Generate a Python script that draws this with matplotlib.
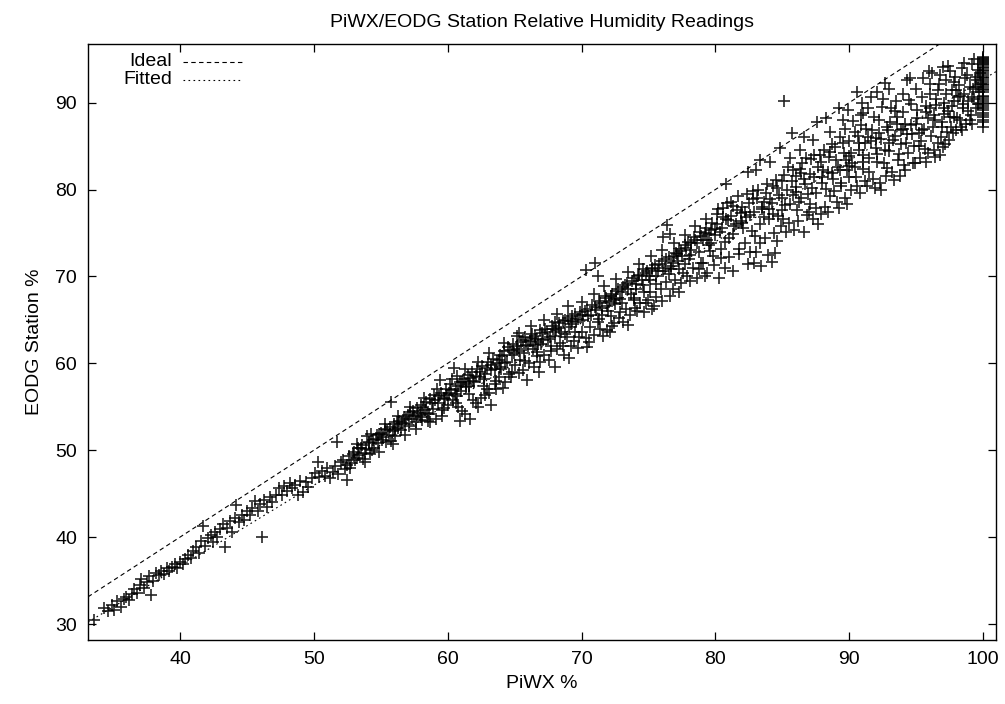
import numpy as np
import matplotlib
matplotlib.use("Agg")
import matplotlib.pyplot as plt

# (PiWX %, EODG %) readings, grouped by PiWX range
rh_33_40 = [(33.6, 30.5), (34.3, 31.8), (34.6, 31.5), (34.9, 32.2), (35.1, 31.6), (35.3, 32.6),
            (35.6, 32.0), (35.8, 32.9), (36.0, 33.1), (36.2, 32.8), (36.4, 33.4), (36.6, 34.0),
            (36.8, 33.6), (37.0, 34.5), (37.1, 35.2), (37.3, 34.2), (37.5, 34.8), (37.7, 35.5),
            (37.8, 33.3), (38.0, 35.0), (38.2, 35.9), (38.4, 35.6), (38.6, 36.1), (38.8, 35.8),
            (39.0, 36.4), (39.2, 36.1), (39.4, 36.6), (39.6, 36.9), (39.8, 36.5), (40.0, 37.1),
            (40.2, 36.9), (40.4, 37.5)]

rh_40_47 = [(40.6, 38.0), (40.8, 37.6), (41.0, 38.4), (41.2, 38.9), (41.4, 38.2), (41.6, 39.5),
            (41.7, 41.3), (41.9, 39.0), (42.1, 39.9), (42.3, 40.3), (42.5, 39.4), (42.6, 40.6),
            (42.8, 40.0), (43.0, 40.9), (43.2, 41.5), (43.4, 38.9), (43.5, 41.0), (43.7, 41.8),
            (43.9, 40.6), (44.1, 42.2), (44.2, 43.7), (44.4, 41.7), (44.6, 42.6), (44.8, 42.0),
            (45.0, 43.0), (45.2, 42.5), (45.4, 43.4), (45.6, 44.1), (45.8, 43.0), (46.0, 43.8),
            (46.1, 40.0), (46.3, 44.3), (46.5, 43.5), (46.7, 44.6), (46.9, 44.0)]

rh_47_52 = [(47.2, 44.9), (47.4, 45.6), (47.6, 44.8), (47.8, 45.9), (48.0, 45.3), (48.2, 46.2),
            (48.4, 45.6), (48.6, 46.0), (48.8, 44.9), (49.0, 46.5), (49.2, 45.2), (49.4, 46.3),
            (49.6, 45.8), (49.9, 46.8), (50.1, 47.4), (50.3, 48.6), (50.4, 46.9), (50.6, 47.6),
            (50.8, 47.0), (51.0, 47.9), (51.2, 46.8), (51.4, 47.5), (51.7, 51.0), (51.6, 48.2),
            (51.8, 47.3), (52.0, 48.6), (52.2, 48.9), (52.3, 47.8), (52.5, 46.6)]

rh_52_56 = [(52.6, 49.3), (52.8, 48.5), (53.0, 49.8), (53.1, 48.9), (53.3, 50.2), (53.4, 49.4),
            (53.6, 50.6), (53.7, 49.0), (53.9, 50.1), (54.0, 51.6), (54.1, 50.8), (54.2, 49.6),
            (54.4, 51.2), (54.5, 50.3), (54.7, 51.7), (54.8, 50.8), (55.0, 52.0), (55.1, 51.2),
            (55.3, 52.4), (55.4, 50.9), (55.6, 51.8), (55.7, 52.7), (55.8, 55.5), (55.9, 52.2),
            (56.0, 53.0), (56.1, 51.6), (56.3, 52.6)]

rh_56_60 = [(56.4, 53.4), (56.5, 52.3), (56.7, 53.8), (56.8, 53.0), (57.0, 54.1), (57.1, 52.8),
            (57.3, 53.6), (57.4, 54.5), (57.6, 53.2), (57.7, 54.9), (57.9, 54.0), (58.0, 55.2),
            (58.1, 53.5), (58.3, 54.6), (58.4, 55.6), (58.6, 54.2), (58.7, 55.9), (58.9, 54.8),
            (59.0, 56.3), (59.1, 53.6), (59.3, 55.4), (59.4, 58.1), (59.5, 56.6), (59.6, 54.6),
            (59.8, 55.9), (59.9, 57.0), (60.0, 55.2)]

rh_60_64 = [(60.1, 56.6), (60.2, 57.6), (60.4, 55.8), (60.5, 59.5), (60.6, 57.1), (60.7, 56.2),
            (60.9, 53.4), (60.9, 57.8), (61.0, 56.8), (61.2, 58.2), (61.3, 54.2), (61.4, 57.3),
            (61.5, 58.7), (61.6, 56.5), (61.7, 53.6), (61.8, 59.0), (62.0, 57.9), (62.1, 55.4),
            (62.2, 59.3), (62.4, 58.4), (62.5, 56.0), (62.6, 59.7), (62.8, 58.8), (62.9, 57.0),
            (63.0, 60.1), (63.2, 55.2), (63.2, 59.2), (63.4, 60.5), (63.5, 57.6), (63.7, 60.0),
            (63.8, 58.4), (63.9, 61.0)]

rh_64_68 = [(64.0, 59.4), (64.1, 57.2), (64.2, 61.4), (64.4, 60.2), (64.5, 61.9), (64.6, 58.8),
            (64.8, 61.0), (64.9, 62.2), (65.0, 59.8), (65.2, 63.1), (65.2, 61.6), (65.4, 60.4),
            (65.5, 62.5), (65.7, 61.2), (65.8, 63.0), (65.9, 58.1), (66.0, 62.0), (66.1, 60.0),
            (66.3, 63.4), (66.4, 61.6), (66.6, 62.8), (66.7, 60.8), (66.8, 59.0), (66.9, 63.8),
            (67.0, 62.2), (67.2, 61.0), (67.3, 64.0), (67.5, 62.8), (67.6, 60.4), (67.8, 64.3),
            (68.0, 59.6), (68.0, 63.2)]

rh_68_72 = [(68.2, 61.6), (68.3, 64.6), (68.5, 63.6), (68.6, 62.0), (68.8, 65.0), (68.9, 63.0),
            (69.1, 60.6), (69.1, 64.2), (69.3, 65.4), (69.4, 62.6), (69.6, 64.8), (69.7, 61.8),
            (69.9, 65.9), (70.0, 63.6), (70.1, 65.0), (70.3, 70.7), (70.3, 62.9), (70.4, 66.3),
            (70.6, 64.2), (70.7, 65.6), (70.9, 63.3), (71.0, 71.6), (71.0, 66.5), (71.2, 70.0),
            (71.2, 64.8), (71.4, 67.0), (71.5, 65.6), (71.6, 63.2), (71.8, 67.5), (71.9, 63.8),
            (72.0, 66.0), (72.1, 63.6)]

rh_72_76 = [(72.2, 67.8), (72.4, 64.6), (72.5, 66.8), (72.6, 68.3), (72.8, 65.2), (72.9, 67.4),
            (73.1, 64.8), (73.1, 68.8), (73.3, 66.2), (73.4, 69.2), (73.6, 65.6), (73.7, 68.0),
            (73.9, 69.8), (74.0, 66.4), (74.1, 68.6), (74.3, 70.2), (74.4, 66.9), (74.6, 69.0),
            (74.7, 65.9), (74.9, 70.6), (75.0, 67.3), (75.1, 69.6), (75.3, 71.0), (75.4, 66.6),
            (75.6, 70.0), (75.6, 67.6), (75.8, 71.4), (75.9, 68.6), (76.1, 74.5), (76.1, 70.6),
            (76.4, 75.9), (76.6, 74.9), (76.3, 72.0)]

rh_76_81 = [(76.6, 67.8), (76.7, 71.2), (76.9, 72.4), (77.0, 69.6), (77.2, 71.8), (77.3, 68.2),
            (77.4, 72.9), (77.6, 70.4), (77.8, 73.3), (77.9, 70.0), (78.0, 72.0), (78.2, 73.8),
            (78.3, 71.0), (78.5, 74.2), (78.6, 69.8), (78.8, 72.8), (78.9, 74.6), (79.1, 71.6),
            (79.2, 75.0), (79.4, 70.4), (79.5, 73.6), (79.7, 75.4), (79.8, 72.4), (80.0, 74.8),
            (80.1, 76.0), (80.3, 69.8), (80.4, 73.2), (80.5, 75.6), (80.7, 71.0), (80.8, 76.6),
            (80.9, 78.5), (80.8, 80.6)]

rh_81_86 = [(81.0, 74.4), (81.2, 77.0), (81.3, 70.6), (81.4, 75.8), (81.6, 77.6), (81.8, 72.6),
            (81.9, 76.4), (82.0, 78.0), (82.2, 73.8), (82.3, 76.8), (82.4, 71.4), (82.4, 82.0),
            (82.5, 78.4), (82.7, 75.2), (82.9, 77.4), (83.0, 72.8), (83.1, 79.0), (83.3, 83.4),
            (83.3, 76.0), (83.4, 71.2), (83.5, 77.8), (83.7, 74.4), (83.8, 79.6), (84.0, 76.6),
            (84.2, 71.7), (84.2, 78.4), (84.4, 75.0), (84.6, 80.2), (84.7, 77.0), (84.8, 84.8),
            (84.9, 75.8), (85.0, 81.0), (85.1, 90.2), (85.2, 78.2), (85.4, 82.6), (85.5, 76.2),
            (85.6, 83.6), (85.7, 86.5), (85.8, 79.4), (85.9, 75.4), (86.0, 81.6)]

rh_86_91 = [(86.1, 77.6), (86.3, 82.4), (86.4, 79.0), (86.6, 75.1), (86.6, 86.0), (86.7, 80.6),
            (86.8, 83.6), (87.0, 77.4), (87.1, 81.8), (87.3, 76.6), (87.3, 85.7), (87.4, 84.0),
            (87.5, 79.6), (87.6, 87.8), (87.7, 82.6), (87.9, 77.2), (88.0, 80.8), (88.1, 84.6),
            (88.2, 78.0), (88.3, 88.2), (88.4, 82.0), (88.6, 79.2), (88.7, 85.2), (88.8, 81.2),
            (89.0, 83.4), (89.1, 78.6), (89.2, 89.4), (89.3, 86.0), (89.4, 80.4), (89.5, 88.0),
            (89.6, 84.2), (89.7, 79.0), (89.8, 82.2), (89.9, 89.2), (90.0, 85.6), (90.1, 80.0),
            (90.2, 83.0), (90.4, 86.6), (90.5, 81.4), (90.6, 91.2), (90.7, 84.6), (90.8, 79.6),
            (90.9, 87.4)]

rh_91_96 = [(91.0, 82.4), (91.0, 88.8), (91.2, 85.4), (91.3, 80.4), (91.4, 89.4), (91.5, 83.6),
            (91.6, 90.6), (91.7, 86.8), (91.8, 81.2), (92.0, 84.8), (92.1, 91.2), (92.2, 88.0),
            (92.3, 80.8), (92.4, 85.8), (92.5, 90.4), (92.6, 83.0), (92.7, 92.3), (92.8, 87.2),
            (93.0, 84.4), (93.1, 89.4), (93.2, 82.0), (93.4, 86.2), (93.5, 90.2), (93.6, 88.4),
            (93.8, 81.6), (93.9, 85.2), (94.0, 91.0), (94.1, 82.8), (94.2, 87.6), (94.3, 92.6),
            (94.4, 84.2), (94.6, 89.8), (94.7, 86.4), (94.8, 83.0), (95.0, 91.6), (95.1, 88.2),
            (95.2, 85.0), (95.3, 83.6), (95.5, 92.8), (95.6, 87.0), (95.7, 89.6), (95.9, 84.2),
            (96.0, 91.0)]

rh_96_100 = [(96.1, 86.2), (96.2, 93.4), (96.3, 88.6), (96.4, 83.8), (96.5, 90.4), (96.6, 85.4),
             (96.7, 92.2), (96.8, 84.0), (96.9, 87.8), (97.0, 94.1), (97.0, 84.9), (97.1, 90.0),
             (97.2, 92.6), (97.3, 86.6), (97.4, 89.0), (97.5, 93.6), (97.6, 87.2), (97.7, 91.4),
             (97.8, 88.4), (97.9, 93.0), (98.0, 86.9), (98.1, 90.6), (98.2, 92.0), (98.3, 88.0),
             (98.4, 94.0), (98.5, 89.4), (98.6, 91.0), (98.7, 87.6), (98.8, 93.2), (98.9, 89.0),
             (99.0, 91.8), (99.1, 88.6), (99.2, 94.4), (99.3, 90.4), (99.4, 92.6), (99.5, 89.4),
             (99.6, 93.8), (99.7, 91.2)]

# second pass over the densest parts of the band
rh_dense_52_66 = [(52.45, 48.3), (52.9, 49.6), (53.25, 49.1), (53.55, 50.3), (53.85, 49.7),
                  (54.15, 51.0), (54.35, 50.0), (54.65, 51.3), (54.9, 51.9), (55.2, 51.5),
                  (55.45, 52.3), (55.75, 51.1), (56.05, 52.4), (56.2, 53.3), (56.55, 53.1),
                  (56.9, 53.6), (57.15, 54.4), (57.45, 53.9), (57.8, 54.3), (58.15, 55.0),
                  (58.45, 54.3), (58.8, 55.4), (59.05, 55.8), (59.35, 56.2), (59.7, 56.0),
                  (59.95, 56.4), (60.25, 56.9), (60.55, 56.5), (60.8, 57.4), (61.05, 57.9),
                  (61.35, 57.6), (61.65, 58.3), (61.9, 58.0), (62.15, 58.6), (62.45, 59.0),
                  (62.7, 58.2), (62.95, 59.5), (63.25, 59.8), (63.55, 59.3), (63.8, 60.4),
                  (64.05, 60.8), (64.3, 60.0), (64.65, 61.5), (64.95, 61.2), (65.15, 62.0),
                  (65.35, 61.4), (65.6, 62.7), (65.85, 62.1), (66.15, 62.6), (65.65, 59.2),
                  (64.7, 58.4), (63.6, 57.0), (62.3, 55.0), (61.1, 54.5), (62.8, 56.3),
                  (64.3, 57.8), (65.3, 58.9), (66.45, 59.6), (63.05, 56.6), (60.6, 55.4),
                  (59.75, 54.9), (58.55, 53.4)]

rh_dense_66_80 = [(66.25, 62.9), (66.5, 63.1), (66.75, 62.4), (67.05, 63.5), (67.15, 62.7),
                  (67.4, 63.6), (67.65, 63.0), (67.9, 64.0), (68.1, 63.8), (68.35, 64.1),
                  (68.6, 64.9), (68.75, 63.4), (69.0, 65.2), (69.25, 64.5), (69.5, 65.7),
                  (69.75, 65.1), (70.05, 65.6), (70.25, 66.0), (70.5, 65.4), (70.8, 66.7),
                  (71.1, 66.1), (71.3, 67.2), (71.55, 66.4), (71.75, 67.8), (72.05, 67.1),
                  (72.3, 68.0), (72.55, 67.5), (72.75, 68.6), (73.0, 68.2), (73.25, 69.0),
                  (73.5, 68.5), (73.8, 69.5), (74.05, 69.1), (74.25, 70.0), (74.5, 69.6),
                  (74.8, 70.4), (75.05, 70.1), (75.25, 70.8), (75.5, 71.3), (75.75, 70.6),
                  (76.0, 71.8), (76.25, 71.0), (76.5, 72.2), (76.8, 71.6), (77.05, 72.7),
                  (77.25, 73.2), (77.5, 72.3), (77.7, 73.6), (77.95, 74.0), (78.15, 73.1),
                  (78.4, 74.5), (78.65, 73.8), (78.85, 75.1), (79.05, 74.2), (79.3, 75.6),
                  (79.55, 74.9), (79.75, 76.2), (79.95, 75.5), (66.9, 60.2), (67.7, 61.4),
                  (68.4, 62.3), (69.2, 62.0), (69.8, 63.0), (70.55, 62.5), (71.35, 63.9),
                  (72.25, 64.3), (72.9, 65.9), (73.45, 64.4), (74.15, 66.0), (74.85, 67.0),
                  (75.3, 66.2), (76.0, 67.2), (76.85, 68.6), (77.45, 69.2), (78.1, 69.5),
                  (78.75, 70.9), (79.25, 70.0), (79.9, 71.3), (76.3, 69.4), (77.75, 71.4),
                  (79.6, 72.9), (75.15, 68.2), (73.95, 67.3)]

rh_dense_80_90 = [(80.15, 77.2), (80.35, 75.1), (80.6, 77.9), (80.75, 74.0), (80.95, 76.5),
                  (81.15, 78.6), (81.35, 74.9), (81.55, 76.0), (81.7, 79.2), (81.95, 77.3),
                  (82.1, 75.6), (82.35, 79.5), (82.6, 77.1), (82.8, 78.9), (82.95, 74.6),
                  (83.2, 80.0), (83.45, 78.0), (83.6, 76.8), (83.85, 80.6), (84.05, 78.9),
                  (84.3, 77.2), (84.5, 81.1), (84.75, 79.4), (84.95, 77.7), (85.15, 81.7),
                  (85.35, 80.0), (85.6, 78.3), (85.8, 82.2), (86.05, 80.3), (86.25, 78.6),
                  (86.45, 83.0), (86.65, 81.2), (86.9, 79.5), (87.15, 83.5), (87.35, 81.4),
                  (87.55, 77.9), (87.8, 84.0), (88.05, 82.2), (88.25, 80.1), (88.5, 83.8),
                  (88.75, 81.9), (88.95, 84.9), (89.15, 82.6), (89.35, 80.8), (89.55, 85.3),
                  (89.75, 83.4), (89.95, 81.5), (81.05, 72.2), (81.8, 73.2), (82.55, 72.8),
                  (83.35, 73.9), (83.9, 72.5), (84.6, 74.1), (85.3, 75.1), (86.15, 76.4),
                  (86.85, 77.1), (87.65, 76.0), (88.4, 77.4), (89.25, 77.9), (89.85, 78.3),
                  (85.05, 76.6), (87.05, 78.3), (88.85, 79.8), (80.45, 72.1), (82.85, 71.6),
                  (84.45, 72.7), (83.0, 82.2), (84.1, 83.2), (86.35, 84.5), (88.6, 86.6),
                  (89.65, 87.0)]

rh_dense_90_100 = [(90.1, 84.2), (90.3, 87.9), (90.45, 82.6), (90.65, 86.2), (90.85, 88.6),
                   (91.05, 84.0), (91.25, 87.0), (91.45, 82.0), (91.65, 85.6), (91.85, 88.3),
                   (92.05, 83.2), (92.25, 86.5), (92.45, 89.5), (92.65, 84.6), (92.85, 82.5),
                   (93.05, 87.8), (93.25, 85.7), (93.45, 89.0), (93.65, 83.4), (93.85, 86.9),
                   (94.05, 88.9), (94.25, 85.3), (94.45, 90.3), (94.65, 87.4), (94.85, 85.0),
                   (95.05, 89.2), (95.25, 86.5), (95.45, 90.6), (95.65, 84.7), (95.85, 88.2),
                   (96.05, 92.2), (96.25, 87.2), (96.45, 89.7), (96.65, 91.4), (96.85, 86.0),
                   (97.05, 88.7), (97.25, 91.0), (97.45, 85.7), (97.65, 89.6), (97.85, 92.4),
                   (98.05, 88.2), (98.25, 90.8), (98.45, 86.8), (98.65, 92.8), (98.85, 90.2),
                   (99.05, 88.0), (99.25, 91.6), (99.45, 93.0), (99.65, 89.8), (99.85, 92.2),
                   (90.55, 80.4), (91.15, 81.0), (91.95, 80.2), (92.75, 81.6), (93.35, 81.1),
                   (94.15, 82.3), (94.95, 83.0), (95.75, 83.2), (96.35, 84.6), (97.15, 85.2),
                   (97.75, 86.5), (98.35, 87.2), (99.15, 87.6), (93.75, 84.1), (95.35, 85.6),
                   (96.95, 87.2), (92.35, 79.9), (90.95, 90.0), (92.95, 91.6), (94.55, 92.8),
                   (95.95, 93.6), (97.35, 94.2), (98.55, 94.6), (99.35, 95.0), (96.75, 93.2)]

# third pass: the scatter either side of the main ridge
rh_extra_52_80 = [(52.7, 47.9), (53.2, 50.7), (53.8, 48.6), (54.3, 51.9), (54.9, 49.8),
                  (55.3, 53.0), (55.9, 50.7), (56.3, 53.9), (56.8, 51.8), (57.2, 55.0),
                  (57.6, 52.5), (58.2, 56.0), (58.7, 53.2), (59.2, 57.1), (59.6, 53.9),
                  (60.3, 58.2), (60.8, 55.0), (61.3, 59.3), (61.9, 55.8), (62.3, 60.1),
                  (62.7, 57.4), (63.1, 61.2), (63.6, 58.0), (64.2, 62.3), (64.8, 59.0),
                  (65.3, 63.5), (65.8, 60.3), (66.2, 64.3), (66.7, 61.3), (67.2, 65.0),
                  (67.7, 62.0), (68.2, 65.7), (68.7, 61.0), (69.0, 66.6), (69.5, 63.6),
                  (70.0, 67.1), (70.4, 61.9), (70.9, 68.0), (71.3, 65.1), (71.7, 68.9),
                  (72.2, 65.5), (72.6, 69.7), (73.0, 66.9), (73.5, 70.5), (73.9, 67.5),
                  (74.3, 71.4), (74.7, 68.2), (75.2, 72.3), (75.6, 69.1), (76.0, 73.0),
                  (76.5, 70.3), (76.9, 73.9), (77.3, 70.8), (77.7, 74.8), (78.1, 72.5),
                  (78.5, 75.8), (78.9, 71.5), (79.3, 76.6), (79.7, 73.9), (80.2, 77.8),
                  (58.0, 53.8), (61.6, 57.4), (63.9, 59.6), (66.5, 62.1), (69.3, 64.9),
                  (71.9, 66.6), (74.6, 70.9), (77.1, 72.6), (79.4, 74.2), (60.7, 58.6),
                  (68.0, 64.8), (72.4, 67.3), (76.7, 70.8)]

rh_extra_80_100 = [(80.6, 76.8), (81.3, 78.1), (82.0, 76.2), (82.8, 79.8), (83.6, 78.6),
                   (84.3, 80.4), (85.0, 79.0), (85.7, 81.0), (86.4, 81.9), (87.2, 80.2),
                   (87.9, 83.2), (88.6, 84.3), (89.3, 82.2), (90.0, 83.9), (90.7, 85.4),
                   (91.4, 86.1), (92.1, 84.1), (92.9, 86.8), (93.6, 87.5), (94.3, 86.4),
                   (95.0, 87.6), (95.7, 88.9), (96.4, 88.0), (97.1, 89.4), (97.8, 90.2),
                   (98.5, 89.9), (99.2, 90.7), (99.8, 93.4), (98.0, 91.4), (96.0, 89.4),
                   (94.0, 87.0), (92.0, 85.9), (90.0, 82.7), (88.0, 81.4), (86.0, 79.7),
                   (84.0, 77.8), (82.2, 77.4), (91.0, 83.2), (93.0, 85.4), (95.4, 86.8),
                   (97.5, 88.4), (99.5, 91.8)]

# saturated PiWX sensor: a column of readings at exactly 100 %
piwx_sat = 100.0
eodg_sat = [87.2, 87.8, 88.0, 88.3, 88.6, 88.8, 89.2, 89.4, 89.6, 89.9, 90.0, 90.2, 90.4,
            90.6, 90.8, 91.2, 91.4, 91.6, 91.8, 92.0, 92.2, 92.4, 92.6, 92.8, 93.0, 93.2,
            93.4, 93.6, 93.8, 94.0, 94.1, 94.3, 94.4, 94.6, 94.7, 94.8, 94.9, 95.0, 95.1, 95.2]

# fitted line
fit_slope = 0.934
fit_intercept = -0.73

readings = np.array(rh_33_40 + rh_40_47 + rh_47_52 + rh_52_56 + rh_56_60 + rh_60_64
                    + rh_64_68 + rh_68_72 + rh_72_76 + rh_76_81 + rh_81_86 + rh_86_91
                    + rh_91_96 + rh_96_100 + rh_dense_52_66 + rh_dense_66_80
                    + rh_dense_80_90 + rh_dense_90_100 + rh_extra_52_80 + rh_extra_80_100)
piwx = np.concatenate([readings[:, 0], np.full(len(eodg_sat), piwx_sat)])
eodg = np.concatenate([readings[:, 1], eodg_sat])

plt.rcParams['font.family'] = ['Liberation Sans', 'DejaVu Sans']

fig = plt.figure(figsize=(10.05, 7.04), dpi=100)
ax = fig.add_axes([0.0876, 0.0909, 0.9035, 0.8466])

ax.plot(piwx, eodg, linestyle='none', marker='+', markersize=8, markeredgewidth=1.2,
        color='black', alpha=0.85)

ax.axline((0, 0), slope=1, color='black', linewidth=0.8, linestyle=(0, (4, 3)))
ax.axline((0, fit_intercept), slope=fit_slope, color='black', linewidth=0.8,
          linestyle=(0, (1.5, 3)))

ax.set_xlim(33.13, 100.97)
ax.set_ylim(28.16, 96.75)
ax.set_xticks([40, 50, 60, 70, 80, 90, 100])
ax.set_yticks([30, 40, 50, 60, 70, 80, 90])
ax.tick_params(direction='in', length=6, width=0.9, top=True, right=True,
               labelsize=14, pad=8)
for sp in ax.spines.values():
    sp.set_linewidth(1.0)

ax.set_xlabel('PiWX %', fontsize=14, labelpad=5)
ax.set_ylabel('EODG Station %', fontsize=14, labelpad=9)
ax.set_title('PiWX/EODG Station Relative Humidity Readings', fontsize=14, pad=12)

# gnuplot-style key: right-aligned labels followed by line samples
key = [('Ideal', (0, (4, 3)), 0.970), ('Fitted', (0, (1.5, 3)), 0.940)]
for label, ls, yk in key:
    ax.text(0.0925, yk, label, transform=ax.transAxes, ha='right', va='center', fontsize=14)
    ax.plot([0.1046, 0.1707], [yk, yk], transform=ax.transAxes, color='black',
            linewidth=0.8, linestyle=ls)

fig.savefig('out.png', dpi=100)
